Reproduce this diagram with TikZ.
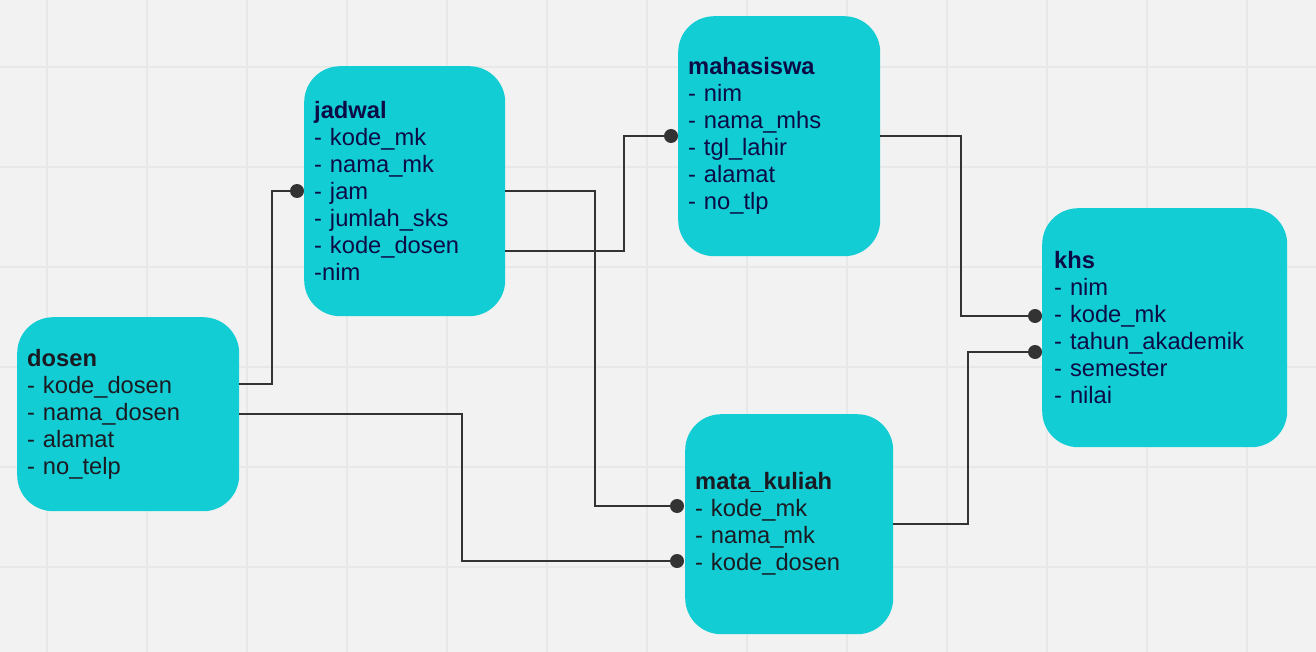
\documentclass[tikz,border=0pt]{standalone}
\usepackage{fontspec}
\setmainfont{Liberation Sans}
\definecolor{bgc}{HTML}{F2F2F2}
\definecolor{gridc}{HTML}{E8E8E8}
\definecolor{boxc}{HTML}{13CDD4}
\definecolor{navy}{HTML}{0B0B45}
\definecolor{darkt}{HTML}{1A1A22}
\definecolor{linec}{HTML}{333333}
\begin{document}
\begin{tikzpicture}[x=1pt,y=-1pt,
  entity/.style={fill=boxc, draw=none, rounded corners=36pt, inner xsep=10pt, inner ysep=0pt,
    align=left, anchor=north west, font={\fontsize{23.7}{27}\selectfont\fontdimen2\font=4.8pt}},
  conn/.style={draw=linec, line width=2pt},
  dot/.style={circle, fill=linec, draw=none, minimum size=14pt, inner sep=0pt}]
\fill[bgc] (0,0) rectangle (1316,652);
\useasboundingbox (0,0) rectangle (1316,652);
\foreach \x in {47,147,...,1247} \draw[gridc, line width=2pt] (\x,0) -- (\x,652);
\foreach \y in {67,167,...,567} \draw[gridc, line width=2pt] (0,\y) -- (1316,\y);

\node[entity, text=darkt, text width=202pt, minimum width=222pt, minimum height=194pt] (dosen) at (17,317)
  {\textbf{dosen}\\- kode\_dosen\\- nama\_dosen\\- alamat\\- no\_telp};
\node[entity, text=navy, text width=181pt, minimum width=201pt, minimum height=250pt] (jadwal) at (304,66)
  {\textbf{jadwal}\\- kode\_mk\\- nama\_mk\\- jam\\- jumlah\_sks\\- kode\_dosen\\-nim};
\node[entity, text=navy, text width=182pt, minimum width=202pt, minimum height=240pt] (mhs) at (678,16)
  {\textbf{mahasiswa}\\- nim\\- nama\_mhs\\- tgl\_lahir\\- alamat\\- no\_tlp};
\node[entity, text=darkt, text width=188pt, minimum width=208pt, minimum height=220pt] (mk) at (685,414)
  {\textbf{mata\_kuliah}\\- kode\_mk\\- nama\_mk\\- kode\_dosen};
\node[entity, text=navy, text width=221pt, minimum width=245pt, minimum height=239pt, inner xsep=12pt] (khs) at (1042,208)
  {\textbf{khs}\\- nim\\- kode\_mk\\- tahun\_akademik\\- semester\\- nilai};

% connector end dots
\node[dot] (d1) at (297,191) {};
\node[dot] (d2) at (677,561) {};
\node[dot] (d3) at (677,506) {};
\node[dot] (d4) at (671,136) {};
\node[dot] (d5) at (1035,316) {};
\node[dot] (d6) at (1035,352) {};

\draw[conn] (dosen.east |- 0,384) -| (272,191) -- (d1.center);
\draw[conn] (dosen.east |- 0,414) -| (462,561) -- (d2.center);
\draw[conn] (jadwal.east |- 0,191) -| (595,506) -- (d3.center);
\draw[conn] (jadwal.east |- 0,251) -| (624,136) -- (d4.center);
\draw[conn] (mhs.east |- 0,136) -| (961,316) -- (d5.center);
\draw[conn] (mk.east |- 0,524) -| (968,352) -- (d6.center);
\end{tikzpicture}
\end{document}
